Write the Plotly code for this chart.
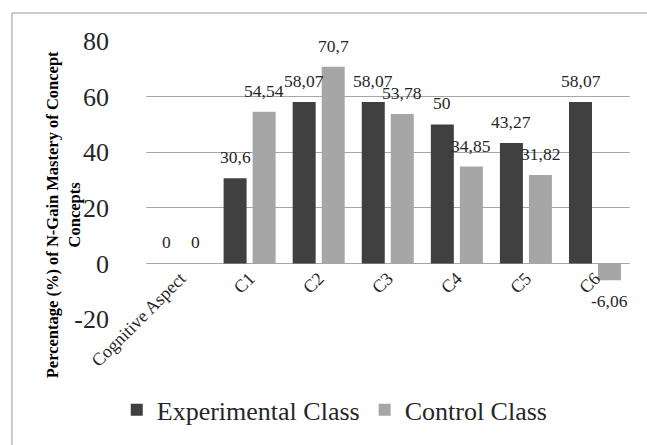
import plotly.graph_objects as go

categories = ["Cognitive Aspect", "C1", "C2", "C3", "C4", "C5", "C6"]
experimental = [0, 30.6, 58.07, 58.07, 50, 43.27, 58.07]
control = [0, 54.54, 70.7, 53.78, 34.85, 31.82, -6.06]
exp_labels = ["0", "30,6", "58,07", "58,07", "50", "43,27", "58,07"]
ctrl_labels = ["0", "54,54", "70,7", "53,78", "34,85", "31,82", "-6,06"]
y_ticks = [-20, 0, 20, 40, 60, 80]

FONT = "Liberation Serif"
DARK = "#404040"
LIGHT = "#a6a6a6"

fig = go.Figure()
fig.add_trace(go.Bar(name="Experimental Class", x=categories, y=experimental,
                     marker_color=DARK, marker_line_width=0))
fig.add_trace(go.Bar(name="Control Class", x=categories, y=control,
                     marker_color=LIGHT, marker_line_width=0))

annotations = []
for cat, v, t in zip(categories, experimental, exp_labels):
    annotations.append(dict(x=cat, y=v, text=t, showarrow=False, xshift=-14.5,
                            yshift=21 if v >= 0 else -21,
                            font=dict(family=FONT, size=17.5, color="#262626")))
for cat, v, t in zip(categories, control, ctrl_labels):
    annotations.append(dict(x=cat, y=v, text=t, showarrow=False, xshift=14.5,
                            yshift=21 if v >= 0 else -21,
                            font=dict(family=FONT, size=17.5, color="#262626")))

annotations.append(dict(
    xref="paper", yref="paper", x=-0.171, y=0.374, xanchor="center", yanchor="middle",
    text="<b>Percentage (%) of N-Gain Mastery of Concept<br>Concepts</b>",
    textangle=-90, showarrow=False, align="center",
    font=dict(family=FONT, size=16.5, color="#000000")))

fig.update_layout(
    width=647, height=445,
    margin=dict(l=146, r=17, t=41, b=126),
    paper_bgcolor="white", plot_bgcolor="white",
    barmode="group", bargap=0.16, bargroupgap=0.207,
    font=dict(family=FONT, color="#262626"),
    showlegend=True,
    legend=dict(orientation="h", x=0.39, xanchor="center", y=-0.327, yanchor="middle",
                font=dict(family=FONT, size=26, color="#262626"),
                itemwidth=30, traceorder="normal"),
    annotations=annotations,
    shapes=[dict(type="rect", xref="paper", yref="paper",
                 x0=-0.2769, x1=1.06, y0=-0.5, y1=1.1007,
                 line=dict(color="#999999", width=1), fillcolor="rgba(0,0,0,0)",
                 layer="below")],
)
fig.update_xaxes(
    tickangle=-45, tickfont=dict(family=FONT, size=18, color="#262626"),
    showline=False, showgrid=False, ticks="",
    anchor="free", position=0.2,
)
fig.update_yaxes(
    range=[-20, 80], tickvals=y_ticks, ticktext=[str(v) for v in y_ticks],
    tickfont=dict(family=FONT, size=26, color="#262626"),
    showgrid=True, gridcolor="#a6a6a6", gridwidth=1,
    zeroline=True, zerolinecolor="#a6a6a6", zerolinewidth=1,
    showline=False, ticks="", ticklabelstandoff=36,
)

fig.write_html("out.html", config={"displayModeBar": False},
               post_script="document.body.style.margin='0';")
